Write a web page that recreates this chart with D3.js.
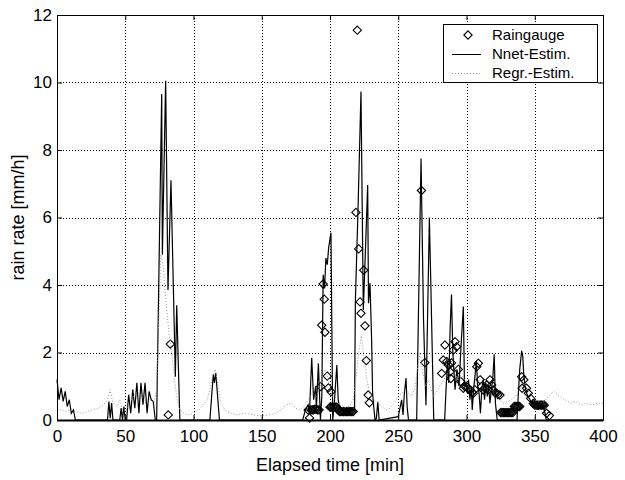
<!DOCTYPE html>
<html>
<head>
<meta charset="utf-8">
<script src="https://cdn.jsdelivr.net/npm/d3@7"></script>
<style>
    body { margin: 0; background: #fff; }
    svg { display: block; font-family: "Liberation Sans", Arial, Helvetica, sans-serif; }
</style>
</head>
<body>
<div id="chart"></div>
<script>
//tick labels
var xTicks = [0, 50, 100, 150, 200, 250, 300, 350, 400];
var yTicks = [0, 2, 4, 6, 8, 10, 12];

//raingauge samples (minutes, mm/h)
var rainTime = [81.5, 83, 184, 185, 186, 187, 188, 189, 190, 191, 192, 193.2, 193.9, 195, 195.8, 196.3, 198, 198.8,
    200, 200.7, 201, 202, 203, 204, 205, 206, 207, 208, 209, 210, 211, 212, 213, 214, 215, 216, 217,
    219, 220, 221, 222, 222.7, 224.7, 225.6, 226.6, 228, 228.8, 267, 269.5,
    281.8, 283, 284.2, 285.5, 286.7, 288, 288.5, 289, 290.3, 291.6, 292.8, 294, 295.8, 297.7, 298.5,
    300, 301, 302.6, 304, 305, 306, 307.5, 308.7, 310, 311, 312.3, 313.5, 314.8, 316, 317.2, 318.4, 319.6,
    321, 322, 323, 324.5, 325, 326, 327, 328, 329, 330, 331, 332, 333, 334, 335, 336, 337, 338, 339,
    340.4, 340.8, 342, 344, 345.3, 347, 349, 350, 351, 352, 353, 354, 355, 356, 357, 358.7, 360.7];
var rainValue = [0.15, 2.25, 0.3, 0.06, 0.3, 0.3, 0.3, 0.32, 0.32, 0.3, 0.3, 0.99, 2.81, 4.03, 3.58, 2.6, 1.3, 0.95,
    0.38, 0.84, 0.38, 0.38, 0.38, 0.38, 0.38, 0.3, 0.25, 0.25, 0.25, 0.25, 0.25, 0.25, 0.25, 0.25, 0.25, 0.25, 0.25,
    6.15, 11.55, 5.07, 3.5, 3.16, 4.44, 2.79, 1.76, 0.74, 0.51, 6.8, 1.7,
    1.38, 1.78, 2.22, 1.73, 1.63, 1.43, 1.23, 1.69, 2.07, 2.32, 2.17, 1.5, 1.14, 0.94, 1.0,
    0.99, 0.95, 0.89, 0.82, 0.79, 0.9, 1.58, 1.68, 1.19, 0.99, 0.89, 0.95, 1.04, 0.9, 1.19, 1.04, 0.89,
    0.8, 0.79, 0.75, 0.74, 0.22, 0.22, 0.22, 0.22, 0.22, 0.22, 0.22, 0.22, 0.22, 0.22, 0.4, 0.4, 0.4, 0.4, 0.4,
    1.28, 0.94, 1.19, 0.94, 0.79, 0.64, 0.49, 0.44, 0.44, 0.44, 0.44, 0.44, 0.44, 0.44, 0.44, 0.2, 0.13];

//neural net estimate
var nnetTime = [0, 1.5, 3, 4.5, 6, 7.5, 9, 10.5, 12, 13.5, 37, 38, 39, 40, 41, 46, 47, 48, 49, 50, 51,
    52.5, 54, 55.5, 57, 58.5, 60, 61.5, 63, 64.5, 66, 67.5, 69, 70.5, 72, 73,
    76.7, 77.2, 79.6, 81.3, 83.5, 86.7, 87.7, 90, 112, 114.5, 115.3, 116.3, 119, 180,
    182, 184, 185, 186.6, 188, 189.5, 190, 191.5, 193, 194, 195, 196, 197, 198, 199, 200.7, 202, 203, 205,
    206, 207, 210, 213, 216, 218, 218.6, 220.5, 222.7, 224.4, 225.5, 227.6, 228.2, 229.3, 230.5, 231.2,
    232, 233, 234, 235, 236, 250, 251, 252.5, 253.5, 254.5, 255.7, 256.5, 257.5, 263.5,
    266.7, 268.5, 270.3, 272.8, 276, 284, 285, 286, 287, 288, 289, 290, 291.6, 293, 294.5, 296, 297.7,
    298.5, 299.5, 300.5, 301.5, 302.5, 303.5, 304.2, 305.2, 306.2, 307.2, 308.2, 309.2, 310.2, 311.2,
    312.2, 313.2, 314.2, 315.2, 316.2, 317.2, 318.2, 319.2, 320.3, 321.2, 322.5, 337, 338, 339, 340.4,
    341.2, 342, 343, 344, 345, 346.6, 347.5, 348.5, 349.5, 350.5, 351.5, 352.5, 353.5, 354.5, 355.5,
    356.5, 357.5, 358.5, 400];
var nnetValue = [1.2, 0.6, 0.95, 0.55, 0.85, 0.4, 0.6, 0.2, 0.3, 0, 0, 0.55, 0.05, 0.5, 0, 0, 0.35, 0, 0.4, 0, 0,
    0.75, 0.2, 0.9, 0.35, 1.1, 0.2, 1.1, 0.45, 1.1, 0.2, 0.85, 0.6, 0.55, 0, 0,
    9.66, 4.9, 10.05, 3.85, 7.1, 1.28, 3.4, 0, 0, 1.35, 1.1, 1.4, 0, 0,
    0.3, 0.45, 0.25, 1.84, 0.6, 1.0, 0.3, 1.68, 0, 0.7, 4.3, 3.9, 4.8, 4.6, 5.1, 5.55, 0, 0.4, 1.63,
    0.6, 0.35, 0.3, 0.28, 0.3, 0.3, 3.55, 6.2, 9.73, 3.26, 4.5, 6.96, 3.46, 4.06, 2.37, 0.8,
    0.4, 0, 0.05, 0.54, 0, 0.1, 0.3, 0.6, 0.15, 0.8, 1.24, 0.4, 0, 0,
    7.75, 3.0, 0.44, 6.0, 0, 0, 0.9, 1.7, 1.1, 2.7, 3.72, 2.0, 0.9, 1.5, 1.0, 2.2, 3.36,
    1.0, 1.1, 0.8, 1.2, 0.6, 1.0, 0.3, 0.9, 1.3, 1.75, 1.0, 0.8, 0.2, 0.9,
    1.2, 0.6, 1.1, 0.7, 1.0, 0.5, 0.9, 1.2, 1.95, 0.5, 0, 0, 0.8, 1.5, 2.05,
    1.9, 1.3, 1.0, 0.8, 0.7, 0.6, 0.45, 0.6, 0.4, 0.5, 0.45, 0.3, 0.5, 0.4, 0.45,
    0.35, 0.2, 0, 0];

//regression estimate
var regrTime = [0, 3, 6, 10, 14, 18, 22, 26, 30, 34, 37, 39, 41, 44, 46, 48, 50, 53, 56, 59, 62, 65, 68, 71, 73,
    75, 76, 78, 79, 81, 82, 84, 86, 88, 90, 93, 96, 100, 104, 107, 110, 112, 114, 116, 118, 120, 123, 127,
    132, 138, 144, 150, 155, 160, 164, 168, 172, 175, 178, 181, 184, 187, 190, 193, 196, 198, 200, 203,
    206, 210, 214, 217, 219, 221, 223, 225, 227, 229, 232, 235, 238, 241, 244, 247, 250, 253, 256, 259,
    262, 264, 266, 268, 270, 272, 274, 276, 279, 282, 285, 288, 291, 294, 297, 300, 303, 306, 309, 312,
    315, 318, 321, 324, 327, 330, 333, 336, 339, 342, 345, 348, 351, 354, 357, 360, 364, 368, 372, 376,
    380, 384, 388, 392, 396, 400];
var regrValue = [0.35, 0.3, 0.25, 0.3, 0.25, 0.2, 0.25, 0.3, 0.35, 0.45, 0.6, 0.9, 0.5, 0.4, 0.6, 0.3, 0.25, 0.5, 0.7, 0.85, 0.7, 0.5, 0.6, 0.5, 0.9,
    3.5, 4.9, 4.5, 3.9, 3.0, 2.6, 2.0, 1.2, 0.6, 0.3, 0.2, 0.15, 0.2, 0.3, 0.45, 0.6, 0.9, 1.3, 1.5, 1.0, 0.5, 0.3, 0.2,
    0.15, 0.2, 0.15, 0.12, 0.15, 0.2, 0.3, 0.45, 0.5, 0.35, 0.3, 0.4, 0.6, 0.8, 0.7, 1.0, 1.5, 1.3, 0.9, 0.6,
    0.5, 0.35, 0.4, 0.6, 1.2, 2.0, 2.5, 1.8, 1.2, 0.8, 0.6, 0.5, 0.4, 0.3, 0.35, 0.5, 0.7, 0.8, 0.9, 0.7,
    0.9, 1.5, 2.0, 1.4, 1.0, 1.2, 0.9, 0.7, 0.9, 1.1, 1.3, 1.5, 1.4, 1.2, 1.3, 1.1, 0.9, 1.0, 1.2, 1.0,
    0.9, 0.8, 0.7, 0.6, 0.5, 0.55, 0.6, 0.7, 0.9, 1.1, 0.9, 0.7, 0.6, 0.5, 0.55, 0.7, 0.85, 0.7, 0.6, 0.5,
    0.55, 0.45, 0.5, 0.45, 0.5, 0.5];

(function () {
    //declare sizes
    var width = 625,
        height = 480,
        plot = { left: 57, right: 603, top: 15, bottom: 420 };

    //zip arrays into point lists
    function zip(t, v) {
        return t.map(function (d, i) { return [d, v[i]]; });
    }

    var rain = zip(rainTime, rainValue),
        nnet = zip(nnetTime, nnetValue),
        regr = zip(regrTime, regrValue);

    //scales
    var x = d3.scaleLinear().domain([0, 400]).range([plot.left, plot.right]),
        y = d3.scaleLinear().domain([0, 12]).range([plot.bottom, plot.top]);

    var line = d3.line().x(function (d) { return x(d[0]); }).y(function (d) { return y(d[1]); });

    var svg = d3.select('#chart').append('svg')
        .attr('width', width)
        .attr('height', height);

    //grid lines
    var grid = svg.append('g').attr('class', 'grid')
        .attr('stroke', '#000')
        .attr('stroke-width', 1)
        .attr('stroke-dasharray', '1,2');

    grid.selectAll('line.gx')
        .data(xTicks.slice(1, -1))
        .enter().append('line')
        .attr('x1', function (d) { return Math.round(x(d)) + 0.5; })
        .attr('x2', function (d) { return Math.round(x(d)) + 0.5; })
        .attr('y1', plot.top)
        .attr('y2', plot.bottom);

    grid.selectAll('line.gy')
        .data(yTicks.slice(1, -1))
        .enter().append('line')
        .attr('y1', function (d) { return Math.round(y(d)) + 0.5; })
        .attr('y2', function (d) { return Math.round(y(d)) + 0.5; })
        .attr('x1', plot.left)
        .attr('x2', plot.right);

    //raingauge diamonds
    var diamond = d3.symbol().type(d3.symbolDiamond2).size(44);
    svg.append('g').selectAll('path')
        .data(rain)
        .enter().append('path')
        .attr('d', diamond)
        .attr('transform', function (d) { return 'translate(' + x(d[0]) + ',' + y(d[1]) + ')'; })
        .attr('fill', 'none')
        .attr('stroke', '#000')
        .attr('stroke-width', 1.1);

    //nnet estimate
    svg.append('path')
        .datum(nnet)
        .attr('d', line)
        .attr('fill', 'none')
        .attr('stroke', '#000')
        .attr('stroke-width', 1.2)
        .attr('stroke-linejoin', 'miter');

    //regression estimate
    svg.append('path')
        .datum(regr)
        .attr('d', line)
        .attr('fill', 'none')
        .attr('stroke', '#999')
        .attr('stroke-width', 1)
        .attr('stroke-dasharray', '1,2');

    //axes with inward ticks
    var fontSize = 17;

    svg.append('g')
        .attr('transform', 'translate(0,' + plot.bottom + ')')
        .call(d3.axisBottom(x).tickValues(xTicks).tickSize(-5).tickPadding(10));

    svg.append('g')
        .attr('transform', 'translate(0,' + plot.top + ')')
        .call(d3.axisTop(x).tickValues(xTicks).tickSize(-5).tickFormat(''));

    svg.append('g')
        .attr('transform', 'translate(' + plot.left + ',0)')
        .call(d3.axisLeft(y).tickValues(yTicks).tickSize(-5).tickPadding(5));

    svg.append('g')
        .attr('transform', 'translate(' + plot.right + ',0)')
        .call(d3.axisRight(y).tickValues(yTicks).tickSize(-5).tickFormat(''));

    svg.selectAll('.domain').attr('stroke', '#000').attr('stroke-width', 1);
    svg.selectAll('.tick line').attr('stroke', '#000');
    svg.selectAll('.tick text')
        .attr('fill', '#000')
        .style('font-size', fontSize + 'px')
        .style('font-family', '"Liberation Sans", Arial, sans-serif');

    //thicker base line like the original
    svg.append('line')
        .attr('x1', plot.left).attr('x2', plot.right)
        .attr('y1', plot.bottom + 0.5).attr('y2', plot.bottom + 0.5)
        .attr('stroke', '#000').attr('stroke-width', 2);

    //axis titles
    svg.append('text')
        .attr('x', (plot.left + plot.right) / 2)
        .attr('y', 471)
        .attr('text-anchor', 'middle')
        .style('font-size', '18px')
        .text('Elapsed time [min]');

    svg.append('text')
        .attr('transform', 'translate(24,' + ((plot.top + plot.bottom) / 2) + ') rotate(-90)')
        .attr('text-anchor', 'middle')
        .style('font-size', '18px')
        .text('rain rate [mm/h]');

    //legend
    var legend = svg.append('g').attr('transform', 'translate(443,24)');

    legend.append('rect')
        .attr('x', 0.5).attr('y', 0.5)
        .attr('width', 154).attr('height', 58)
        .attr('fill', '#fff')
        .attr('stroke', '#000');

    var rows = [
        { label: 'Raingauge', kind: 'marker' },
        { label: 'Nnet-Estim.', kind: 'solid' },
        { label: 'Regr.-Estim.', kind: 'dotted' }
    ];

    rows.forEach(function (r, i) {
        var cy = 11 + i * 19;
        if (r.kind === 'marker') {
            legend.append('path')
                .attr('d', diamond)
                .attr('transform', 'translate(25,' + cy + ')')
                .attr('fill', 'none')
                .attr('stroke', '#000')
                .attr('stroke-width', 1.1);
        } else {
            legend.append('line')
                .attr('x1', 9).attr('x2', 38)
                .attr('y1', cy + 0.5).attr('y2', cy + 0.5)
                .attr('stroke', r.kind === 'solid' ? '#000' : '#999')
                .attr('stroke-dasharray', r.kind === 'solid' ? null : '1,2');
        }
        legend.append('text')
            .attr('x', 49)
            .attr('y', cy + 5)
            .style('font-size', '15px')
            .text(r.label);
    });
})();
</script>
</body>
</html>
